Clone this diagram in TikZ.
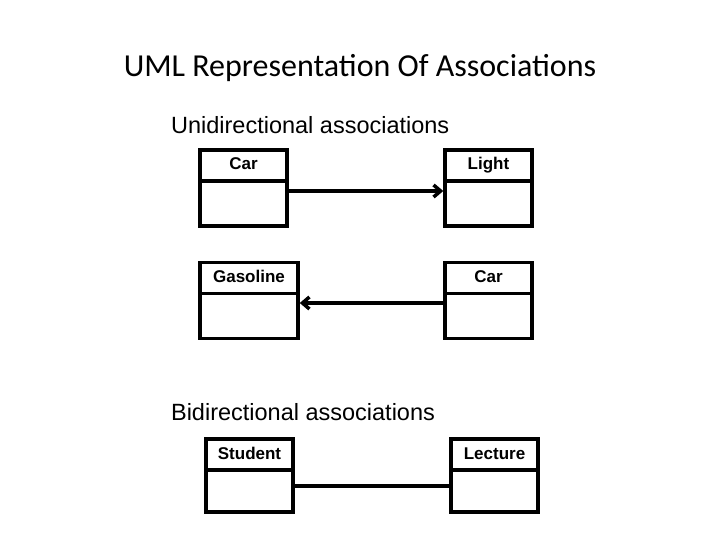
\documentclass[tikz,border=0pt]{standalone}
\usepackage{fontspec}
\setmainfont{Liberation Sans}
\newfontfamily\titlefont{Carlito}
\usetikzlibrary{arrows.meta,positioning}

\begin{document}
\begin{tikzpicture}[x=1pt,y=-1pt,line width=3.5pt,
                    >={Straight Barb[length=7pt,width=12pt]},
                    head/.style={draw,minimum height=31pt,inner sep=0pt,text height=12pt,text depth=3pt,
                                 font=\bfseries\fontsize{17}{19}\selectfont},
                    body/.style={draw,minimum height=45pt,anchor=north,yshift=3.5pt}]
  \useasboundingbox (0,0) rectangle (720,540);

  \node (title) at (360,68) {\titlefont\fontsize{32}{36}\selectfont UML Representation Of Associations};
  \node[anchor=west,font=\fontsize{23.5}{27}\selectfont] (uni) at (166,125) {Unidirectional associations};
  \node[anchor=west,font=\fontsize{23.5}{27}\selectfont] (bi) at (166,412) {Bidirectional associations};

  % unidirectional
  \node[head,minimum width=87pt] (car)   at (243.5,165.5) {Car};
  \node[body,minimum width=87pt] (carb)  at (car.south)   {};
  \node[head,minimum width=87pt] (light) at (488.5,165.5) {Light};
  \node[body,minimum width=87pt] (lightb) at (light.south) {};

  \node[head,minimum width=98pt] (gas)   at (249,278)   {Gasoline};
  \node[body,minimum width=98pt] (gasb)  at (gas.south) {};
  \node[head,minimum width=87pt] (car2)  at (488.5,278) {Car};
  \node[body,minimum width=87pt] (car2b) at (car2.south) {};

  \draw[->] (carb.east |- 0,191) -- (lightb.west |- 0,191);
  \draw[->] (car2b.west |- 0,303) -- (gasb.east |- 0,303);

  % bidirectional
  \node[head,minimum width=87pt] (stud)  at (249.5,454.5) {Student};
  \node[body,minimum width=87pt,minimum height=42pt] (studb) at (stud.south) {};
  \node[head,minimum width=87pt] (lect)  at (494.5,454.5) {Lecture};
  \node[body,minimum width=87pt,minimum height=42pt] (lectb) at (lect.south) {};

  \draw (studb.east |- 0,486) -- (lectb.west |- 0,486);
\end{tikzpicture}
\end{document}
